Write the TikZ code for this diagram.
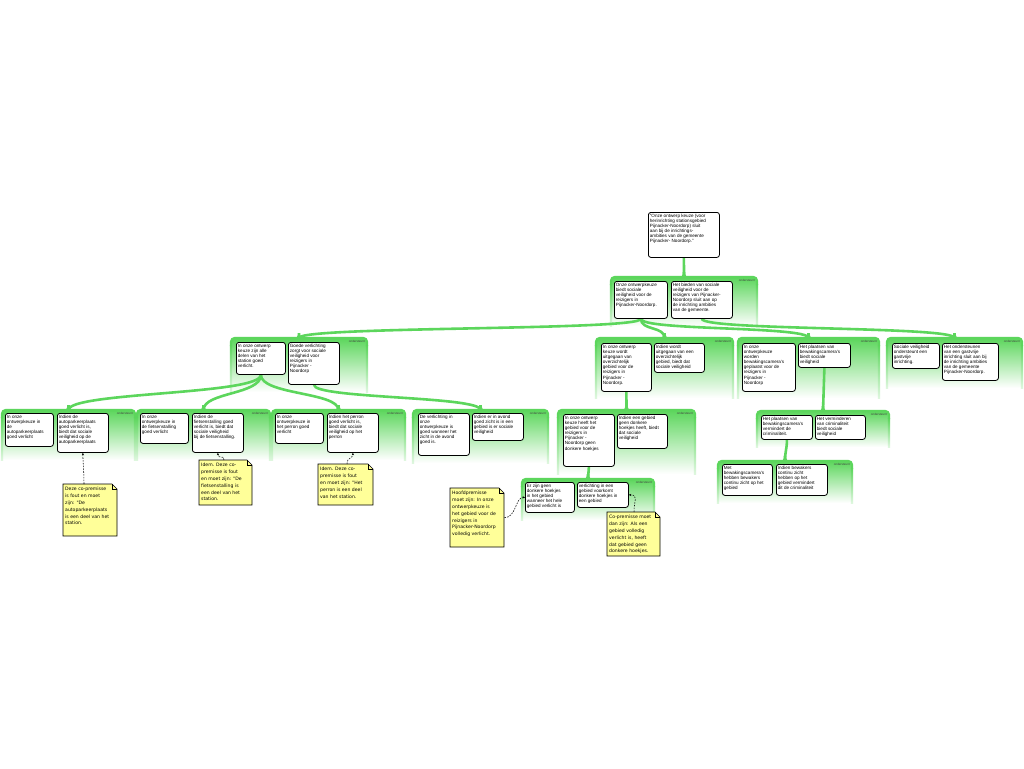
\documentclass[tikz,border=0pt]{standalone}
\usepackage{fontspec}
\setmainfont{Liberation Sans}
\newfontfamily\notefam{DejaVu Sans}
\usetikzlibrary{calc,arrows.meta}
\definecolor{grp}{RGB}{92,214,92}
\definecolor{notey}{RGB}{255,255,153}
\pgfdeclarelayer{bglayer}
\pgfdeclarelayer{grplayer}
\pgfdeclarelayer{connlayer}
\pgfsetlayers{bglayer,grplayer,connlayer,main}
\newcommand\boxfont{\fontsize{4.6}{5.1}\selectfont}
\newcommand\notefont{\notefam\fontsize{4.6}{6.8}\selectfont}
% group: name x1 y1 x2 y2
\newcommand\grpbox[5]{%
  \begin{pgfonlayer}{grplayer}
  \shade[top color=grp, middle color=grp!65, bottom color=white, rounded corners=4pt] (#2,#3) rectangle (#4,#5);
  \draw[grp, line width=2.4pt, rounded corners=4pt] (#2,{#3+8}) -- (#2,#3) -- (#4,#3) -- (#4,{#3+8});
  \shade[top color=grp, bottom color=grp!20] ({#2-1.2},{#3+7}) rectangle ({#2+1.2},#5);
  \shade[top color=grp, bottom color=grp!20] ({#4-1.2},{#3+7}) rectangle ({#4+1.2},#5);
  \end{pgfonlayer}
  \coordinate (#1) at ({(#2+#4)/2},#3);
  \node[lbl, anchor=north east] (#1l) at ({#4-2},{#3+2.5}) {ondersteunt};
}
% box: name x1 y1 x2 y2 text
\newcommand\bx[6]{%
  \node[box, anchor=north west] (#1) at (#2,#3)
   {\begin{minipage}[t][\dimexpr#5pt-#3pt-3pt\relax][t]{\dimexpr#4pt-#2pt-3pt\relax}\boxfont\begin{tabular}{@{}l@{}}#6\end{tabular}\end{minipage}};
}
% note: name x1 y1 x2 y2 text
\newcommand\nte[6]{%
  \filldraw[fill=notey, draw=black, line width=0.6pt] (#2,#3) -- ({#4-5},#3) -- (#4,{#3+5}) -- (#4,#5) -- (#2,#5) -- cycle;
  \draw[line width=0.45pt] ({#4-5},#3) -- ({#4-5},{#3+5}) -- (#4,{#3+5});
  \node[anchor=north west, inner sep=2pt] (#1) at (#2,#3)
   {\begin{minipage}[t][\dimexpr#5pt-#3pt-4pt\relax][t]{\dimexpr#4pt-#2pt-4pt\relax}\notefont\begin{tabular}{@{}l@{}}#6\end{tabular}\end{minipage}};
}
\newcommand\flare[1]{%
  \fill[grp] ($(#1)+(-6,0.5)$) .. controls ($(#1)+(-2,0.5)$) and ($(#1)+(-1.3,-1.5)$) .. ($(#1)+(-1.3,-5)$)
    -- ($(#1)+(1.3,-5)$) .. controls ($(#1)+(1.3,-1.5)$) and ($(#1)+(2,0.5)$) .. ($(#1)+(6,0.5)$) -- cycle;}
\begin{document}
\begin{tikzpicture}[x=1pt,y=-1pt,
  box/.style={draw=black, fill=white, rounded corners=2.5pt, line width=0.8pt, inner sep=1.5pt},
  lbl/.style={font=\fontsize{3}{3}\selectfont, inner sep=0pt, text=black!75},
  conn/.style={draw=grp, line width=2.6pt},
  nlink/.style={draw=black, line width=0.55pt, dash pattern=on 1.6pt off 1.2pt, -{Stealth[length=2.4pt,width=2.2pt]}}]
\begin{pgfonlayer}{bglayer}
\fill[white] (0,0) rectangle (1024,768);
\end{pgfonlayer}
\useasboundingbox (0,0) rectangle (1024,768);

% top claim
\bx{T}{648}{212}{719}{257}{"Onze ontwerp keuze (voor\\herinrichting stationsgebied\\Pijnacker-Noordorp) sluit\\aan bij de inrichtings-\\ambities van de gemeente\\Pijnacker- Noordorp."}

% level 2
\grpbox{g2}{611}{277}{757}{326}
\bx{L2a}{614}{281}{667}{318}{Onze ontwerpkeuze\\biedt sociale\\veiligheid voor de\\reizigers in\\Pijnacker-Noordorp.}
\bx{L2b}{671}{281}{732}{318}{Het bieden van sociale\\veiligheid voor de\\reizigers van Pijnacker-\\Noordorp sluit aan op\\de inrichting ambities\\van de gemeente.}

% level 3
\grpbox{gA}{231}{338}{367}{392}
\bx{Aa}{236}{342}{285}{374}{In onze ontwerp\\keuze zijn alle\\delen van het\\station goed\\verlicht.}
\bx{Ab}{288}{342}{339}{384}{Goede verlichting\\zorgt voor sociale\\veiligheid voor\\reizigers in\\Pijnacker -\\Noordorp}

\grpbox{gB}{596}{338}{733}{398}
\bx{Ba}{601}{343}{651}{391}{In onze ontwerp\\keuze wordt\\uitgegaan van\\overzichtelijk\\gebied voor de\\reizigers in\\Pijnacker -\\Noordorp.}
\bx{Bb}{654}{343}{704}{372}{Indien wordt\\uitgegaan van een\\overzichtelijk\\gebied, biedt dat\\sociale veiligheid}

\grpbox{gC}{738}{338}{879}{398}
\bx{Ca}{742}{343}{795}{391}{In onze\\ontwerpkeuze\\worden\\bewakingscamera's\\geplaatst voor de\\reizigers in\\Pijnacker -\\Noordorp}
\bx{Cb}{798}{343}{850}{367}{Het plaatsen van\\bewakingscamera's\\biedt sociale\\veiligheid}

\grpbox{gD}{887}{338}{1022}{388}
\bx{Da}{892}{343}{939}{368}{Sociale veiligheid\\ondersteunt een\\gastvrije\\inrichting.}
\bx{Db}{942}{343}{998}{380}{Het ondersteunen\\van een gastvrije\\inrichting sluit aan bij\\de inrichting ambities\\van de gemeente\\Pijnacker-Noordorp.}

% level 4
\grpbox{gE}{2}{410}{135}{460}
\bx{Ea}{5}{413}{53}{446}{In onze\\ontwerpkeuze in\\de\\autoparkeerplaats\\goed verlicht}
\bx{Eb}{57}{413}{108}{452}{Indien de\\autoparkeerplaats\\goed verlicht is,\\biedt dat sociale\\veiligheid op de\\autoparkeerplaats}

\grpbox{gF}{137}{410}{270}{460}
\bx{Fa}{140}{413}{188}{443}{In onze\\ontwerpkeuze in\\de fietsenstalling\\goed verlicht}
\bx{Fb}{192}{413}{243}{452}{Indien de\\fietsenstalling goed\\verlicht is, biedt dat\\sociale veiligheid\\bij de fietsenstalling.}

\grpbox{gG}{272}{410}{405}{460}
\bx{Ga}{275}{413}{323}{443}{In onze\\ontwerpkeuze in\\het perron goed\\verlicht}
\bx{Gb}{327}{413}{378}{452}{Indien het perron\\goed verlicht is,\\biedt dat sociale\\veiligheid op het\\perron}

\grpbox{gH}{413}{410}{548}{463}
\bx{Ha}{418}{413}{469}{455}{De verlichting in\\onze\\ontwerpkeuze is\\goed wanneer het\\zicht in de avond\\goed is.}
\bx{Hb}{472}{413}{523}{440}{Indien er in avond\\goed zicht is in een\\gebied is er sociale\\veiligheid}

\grpbox{gI}{558}{410}{695}{474}
\bx{Ia}{563}{414}{614}{466}{In onze ontwerp\\keuze heeft het\\gebied voor de\\reizigers in\\Pijnacker -\\Noordorp geen\\donkere hoekjes}
\bx{Ib}{617}{414}{667}{448}{Indien een gebied\\geen donkere\\hoekjes heeft, biedt\\dat sociale\\veiligheid}

\grpbox{gJ}{757}{411}{889}{447}
\bx{Ja}{761}{415}{812}{439}{Het plaatsen van\\bewakingscamera's\\vermindert de\\criminaliteit.}
\bx{Jb}{815}{415}{865}{439}{Het verminderen\\van criminaliteit\\biedt sociale\\veiligheid}

\grpbox{gK}{718}{461}{852}{503}
\bx{Ka}{722}{464}{772}{495}{Met\\bewakingscamera's\\hebben bewakers\\continu zicht op het\\gebied}
\bx{Kb}{776}{464}{827}{495}{Indien bewakers\\continu zicht\\hebben op het\\gebied vermindert\\dit de criminaliteit}

\grpbox{gL}{522}{479}{654}{520}
\bx{La}{525}{482}{574}{512}{Er zijn geen\\donkere hoekjes\\in het gebied\\wanneer het hele\\gebied verlicht is}
\bx{Lb}{577}{482}{628}{507}{verlichting in een\\gebied voorkomt\\donkere hoekjes in\\een gebied}

% notes
\nte{N1}{63}{484}{117}{536}{Deze co-premisse\\is fout en moet\\zijn: "De\\autoparkeerplaats\\is een deel van het\\station.}
\nte{N2}{199}{460}{252}{505}{Idem. Deze co-\\premisse is fout\\en moet zijn: "De\\fietsenstalling is\\een deel van het\\station.}
\nte{N3}{318}{464}{373}{505}{Idem. Deze co-\\premisse is fout\\en moet zijn: "Het\\perron is een deel\\van het station.}
\nte{N4}{450}{488}{504}{547}{Hoofdpremisse\\moet zijn: In onze\\ontwerpkeuze is\\het gebied voor de\\reizigers in\\Pijnacker-Noordorp\\volledig verlicht.}
\nte{N5}{607}{512}{660}{556}{Co-premisse moet\\dan zijn: Als een\\gebied volledig\\verlicht is, heeft\\dat gebied geen\\donkere hoekjes.}

% green connectors
\begin{pgfonlayer}{connlayer}
\draw[conn] (T.south) -- (g2);
\draw[conn] (L2a.south) .. controls +(0,12) and +(0,-12) .. (gA);
\draw[conn] (L2a.south) .. controls +(0,12) and +(0,-12) .. (gB);
\draw[conn] (L2a.south) .. controls +(0,12) and +(0,-12) .. (gC);
\draw[conn] (L2b.south) .. controls +(0,12) and +(0,-12) .. (gD);
\draw[conn] (Aa.south) .. controls +(0,20) and +(0,-18) .. (gE);
\draw[conn] (Aa.south) .. controls +(0,20) and +(0,-18) .. (gF);
\draw[conn] (Aa.south) .. controls +(0,20) and +(0,-18) .. (gG);
\draw[conn] (Ab.south) .. controls +(0,14) and +(0,-14) .. (gH);
\draw[conn] (Ba.south) .. controls +(0,8) and +(0,-8) .. (gI);
\draw[conn] (Ia.south) -- (gL);
\draw[conn] (Cb.south) -- (gJ);
\draw[conn] (Ja.south) .. controls +(0,10) and +(0,-10) .. (gK);
\flare{g2}\flare{gA}\flare{gB}\flare{gC}\flare{gD}
\flare{gE}\flare{gF}\flare{gG}\flare{gH}\flare{gI}
\flare{gJ}\flare{gK}\flare{gL}
\end{pgfonlayer}

% dashed note links
\draw[nlink] ($(N1.north west)+(21,0)$) .. controls +(0,-14) and +(0,10) .. (Eb.south);
\draw[nlink] ($(N2.north west)+(25,0)$) .. controls +(0,-6) and +(0,7) .. (Fb.south);
\draw[nlink] ($(N3.north west)+(29,0)$) .. controls +(0,-7) and +(0,6) .. (Gb.south);
\draw[nlink] (N4.east) .. controls +(12,0) and +(-10,0) .. (La.west);
\draw[nlink] ($(N5.north west)+(27,0)$) .. controls +(0,-12) and +(10,0) .. (Lb.east);
\end{tikzpicture}
\end{document}
